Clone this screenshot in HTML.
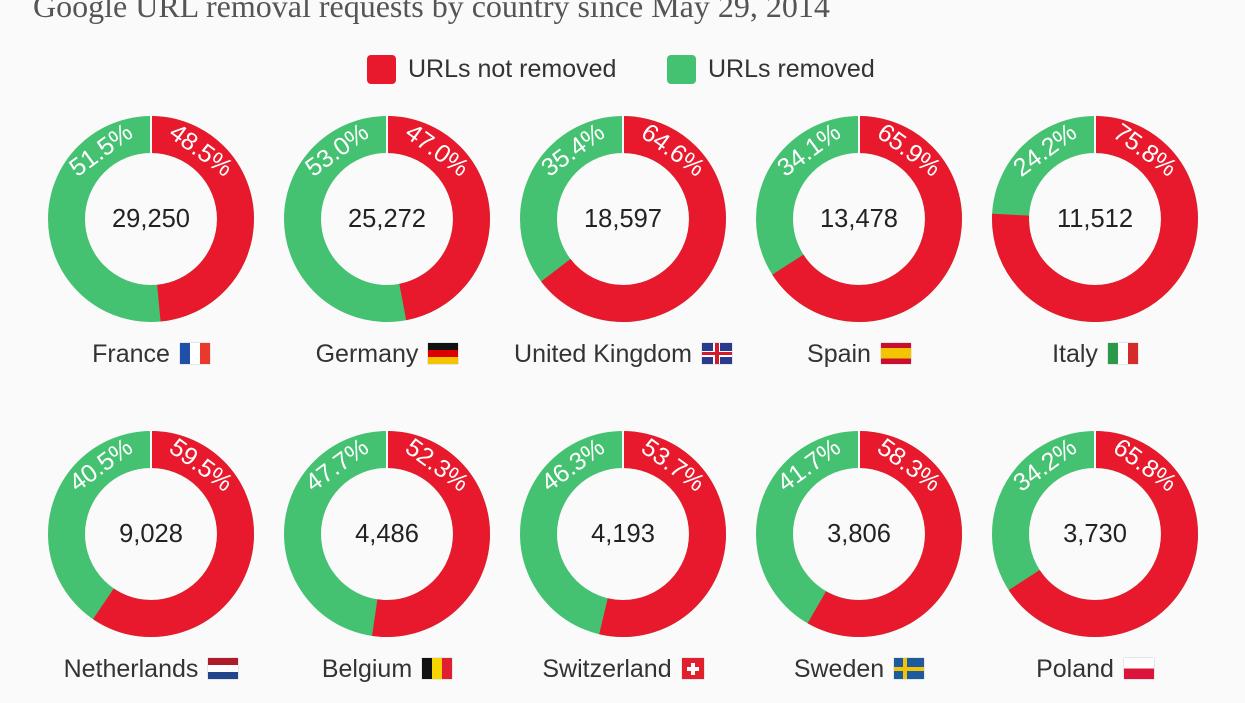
<!DOCTYPE html>
<html><head><meta charset="utf-8"><style>
body{margin:0;width:1245px;height:703px;background:#fafafa;position:relative;overflow:hidden;font-family:"Liberation Sans",sans-serif;}
.t{position:absolute;left:33px;top:-12px;font-family:"Liberation Serif",serif;font-size:32px;color:#555;white-space:nowrap}
.lg{position:absolute;top:55px;height:28px;line-height:28px;font-size:25px;color:#333}
.lg i{display:inline-block;width:29px;height:29px;border-radius:4px;vertical-align:top;margin-right:12px}
.c{position:absolute;width:300px;text-align:center;font-size:25px;color:#333;white-space:nowrap}
.f{display:inline-block;width:30px;height:21px;vertical-align:-2px;margin-left:10px;box-shadow:0 0 1px #999}
svg{position:absolute;left:0;top:0}
</style></head><body>
<div class="t">Google URL removal requests by country since May 29, 2014</div>
<div class="lg" style="left:367px"><i style="background:#e8192c"></i>URLs not removed</div>
<div class="lg" style="left:667px"><i style="background:#45c172"></i>URLs removed</div>
<svg width="1245" height="703" font-family="Liberation Sans, sans-serif">
<g fill="none" stroke-width="37">
<g transform="translate(151,219)"><circle r="84.5" stroke="#45c172"/><circle r="84.5" stroke="#e8192c" stroke-dasharray="257.5 1000" transform="rotate(-90)"/></g>
<g transform="translate(387,219)"><circle r="84.5" stroke="#45c172"/><circle r="84.5" stroke="#e8192c" stroke-dasharray="249.5 1000" transform="rotate(-90)"/></g>
<g transform="translate(623,219)"><circle r="84.5" stroke="#45c172"/><circle r="84.5" stroke="#e8192c" stroke-dasharray="343 1000" transform="rotate(-90)"/></g>
<g transform="translate(859,219)"><circle r="84.5" stroke="#45c172"/><circle r="84.5" stroke="#e8192c" stroke-dasharray="349.9 1000" transform="rotate(-90)"/></g>
<g transform="translate(1095,219)"><circle r="84.5" stroke="#45c172"/><circle r="84.5" stroke="#e8192c" stroke-dasharray="402.4 1000" transform="rotate(-90)"/></g>
<g transform="translate(151,534)"><circle r="84.5" stroke="#45c172"/><circle r="84.5" stroke="#e8192c" stroke-dasharray="315.9 1000" transform="rotate(-90)"/></g>
<g transform="translate(387,534)"><circle r="84.5" stroke="#45c172"/><circle r="84.5" stroke="#e8192c" stroke-dasharray="277.7 1000" transform="rotate(-90)"/></g>
<g transform="translate(623,534)"><circle r="84.5" stroke="#45c172"/><circle r="84.5" stroke="#e8192c" stroke-dasharray="285.1 1000" transform="rotate(-90)"/></g>
<g transform="translate(859,534)"><circle r="84.5" stroke="#45c172"/><circle r="84.5" stroke="#e8192c" stroke-dasharray="309.5 1000" transform="rotate(-90)"/></g>
<g transform="translate(1095,534)"><circle r="84.5" stroke="#45c172"/><circle r="84.5" stroke="#e8192c" stroke-dasharray="349.3 1000" transform="rotate(-90)"/></g>
</g>
<g stroke="#fafafa" stroke-width="2">
<line x1="151" y1="115" x2="151" y2="153"/><line x1="387" y1="115" x2="387" y2="153"/><line x1="623" y1="115" x2="623" y2="153"/><line x1="859" y1="115" x2="859" y2="153"/><line x1="1095" y1="115" x2="1095" y2="153"/>
<line x1="151" y1="430" x2="151" y2="468"/><line x1="387" y1="430" x2="387" y2="468"/><line x1="623" y1="430" x2="623" y2="468"/><line x1="859" y1="430" x2="859" y2="468"/><line x1="1095" y1="430" x2="1095" y2="468"/>
</g>
<g fill="#fff" font-size="25" text-anchor="middle" dominant-baseline="central">
<text transform="translate(151,219) rotate(36) translate(0,-85)">48.5%</text><text transform="translate(151,219) rotate(-36) translate(0,-85)">51.5%</text>
<text transform="translate(387,219) rotate(36) translate(0,-85)">47.0%</text><text transform="translate(387,219) rotate(-36) translate(0,-85)">53.0%</text>
<text transform="translate(623,219) rotate(36) translate(0,-85)">64.6%</text><text transform="translate(623,219) rotate(-36) translate(0,-85)">35.4%</text>
<text transform="translate(859,219) rotate(36) translate(0,-85)">65.9%</text><text transform="translate(859,219) rotate(-36) translate(0,-85)">34.1%</text>
<text transform="translate(1095,219) rotate(36) translate(0,-85)">75.8%</text><text transform="translate(1095,219) rotate(-36) translate(0,-85)">24.2%</text>
<text transform="translate(151,534) rotate(36) translate(0,-85)">59.5%</text><text transform="translate(151,534) rotate(-36) translate(0,-85)">40.5%</text>
<text transform="translate(387,534) rotate(36) translate(0,-85)">52.3%</text><text transform="translate(387,534) rotate(-36) translate(0,-85)">47.7%</text>
<text transform="translate(623,534) rotate(36) translate(0,-85)">53.7%</text><text transform="translate(623,534) rotate(-36) translate(0,-85)">46.3%</text>
<text transform="translate(859,534) rotate(36) translate(0,-85)">58.3%</text><text transform="translate(859,534) rotate(-36) translate(0,-85)">41.7%</text>
<text transform="translate(1095,534) rotate(36) translate(0,-85)">65.8%</text><text transform="translate(1095,534) rotate(-36) translate(0,-85)">34.2%</text>
</g>
<g fill="#222" font-size="25.5" text-anchor="middle" dominant-baseline="central">
<text x="151" y="219">29,250</text><text x="387" y="219">25,272</text><text x="623" y="219">18,597</text><text x="859" y="219">13,478</text><text x="1095" y="219">11,512</text>
<text x="151" y="534">9,028</text><text x="387" y="534">4,486</text><text x="623" y="534">4,193</text><text x="859" y="534">3,806</text><text x="1095" y="534">3,730</text>
</g>
</svg>
<div class="c" style="left:1px;top:340px">France<span class="f" style="background:linear-gradient(90deg,#1f4fa8 33%,#fff 33% 66%,#e8392c 66%)"></span></div>
<div class="c" style="left:237px;top:340px">Germany<span class="f" style="background:linear-gradient(#111 33%,#d00 33% 66%,#f5c400 66%)"></span></div>
<div class="c" style="left:473px;top:340px">United Kingdom<span class="f" style="background:linear-gradient(#fff 0 0) center/100% 6px no-repeat,linear-gradient(#fff 0 0) center/7px 100% no-repeat,#2a3a8c;position:relative"><span style="position:absolute;left:0;right:0;top:9px;height:3px;background:#d01c2c"></span><span style="position:absolute;top:0;bottom:0;left:13px;width:4px;background:#d01c2c"></span></span></div>
<div class="c" style="left:709px;top:340px">Spain<span class="f" style="background:linear-gradient(#c8102e 25%,#f5c400 25% 75%,#c8102e 75%)"></span></div>
<div class="c" style="left:945px;top:340px">Italy<span class="f" style="background:linear-gradient(90deg,#2a9a48 33%,#fff 33% 66%,#d62b2b 66%)"></span></div>
<div class="c" style="left:1px;top:655px">Netherlands<span class="f" style="background:linear-gradient(#ae1c28 33%,#fff 33% 66%,#21468b 66%)"></span></div>
<div class="c" style="left:237px;top:655px">Belgium<span class="f" style="background:linear-gradient(90deg,#111 33%,#f5d400 33% 66%,#e02030 66%)"></span></div>
<div class="c" style="left:473px;top:655px">Switzerland<span class="f" style="width:22px;background:linear-gradient(#fff 0 0) center/12px 4px no-repeat,linear-gradient(#fff 0 0) center/4px 12px no-repeat,#e0202c"></span></div>
<div class="c" style="left:709px;top:655px">Sweden<span class="f" style="background:linear-gradient(#f5c400 0 0) 0 50%/100% 4px no-repeat,linear-gradient(#f5c400 0 0) 9px 0/4px 100% no-repeat,#1e5aa0"></span></div>
<div class="c" style="left:945px;top:655px">Poland<span class="f" style="background:linear-gradient(#fff 50%,#dc143c 50%)"></span></div>
</body></html>
